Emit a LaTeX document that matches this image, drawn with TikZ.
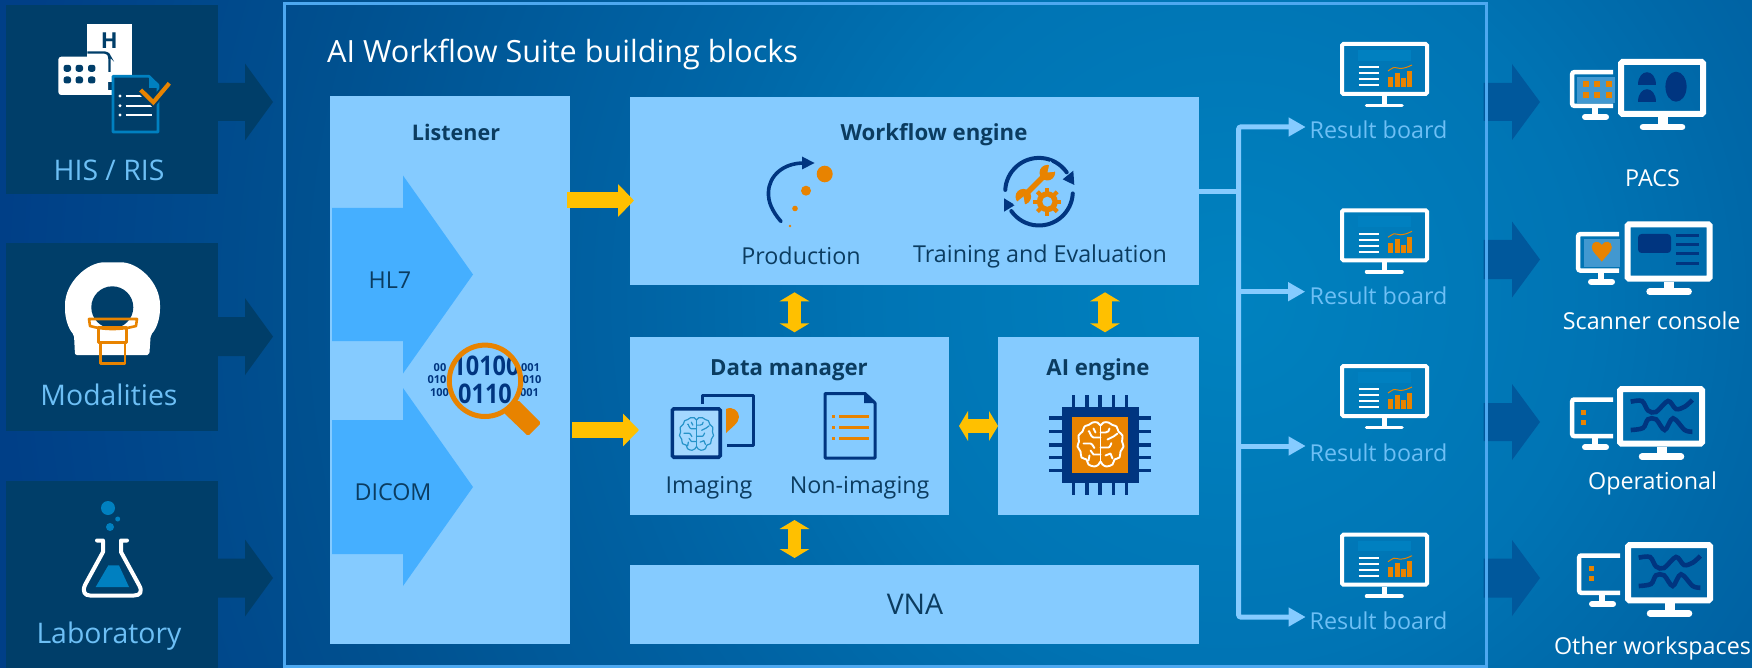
\documentclass[tikz,border=0pt]{standalone}
\usepackage{fontspec}
\setmainfont{Open Sans}
\usetikzlibrary{arrows.meta,calc}
\definecolor{panel}{HTML}{003E69}
\definecolor{lite}{HTML}{85CBFF}
\definecolor{midb}{HTML}{45AFFF}
\definecolor{rim}{HTML}{4DA8F0}
\definecolor{txtd}{HTML}{0B3C60}
\definecolor{txtl}{HTML}{6DBFF5}
\definecolor{navy}{HTML}{003580}
\definecolor{oran}{HTML}{E88300}
\definecolor{gold}{HTML}{FFC000}
\definecolor{cyanb}{HTML}{0080C0}
\definecolor{arrowr}{HTML}{00589C}
\definecolor{scr}{HTML}{4298D0}
\pgfdeclareradialshading{bgshade}{\pgfpoint{0bp}{0bp}}{%
 rgb(0bp)=(0,.51,.75); rgb(6bp)=(0,.455,.706); rgb(8.7bp)=(0,.408,.659);
 rgb(10.2bp)=(0,.384,.639); rgb(15.5bp)=(0,.314,.561); rgb(20.5bp)=(0,.247,.529); rgb(50bp)=(0,.247,.529)}
\tikzset{
 box/.style={fill=lite,draw=none,inner sep=0pt,outer sep=0pt},
 panelbox/.style={fill=panel,draw=none,inner sep=0pt,outer sep=0pt},
 txt/.style={inner sep=0pt,outer sep=0pt,text=txtd,font=\fontsize{23.3}{27}\selectfont},
 head/.style={inner sep=0pt,outer sep=0pt,text=txtd,font=\fontsize{22.2}{26}\selectfont\bfseries},
 side/.style={inner sep=0pt,outer sep=0pt,text=txtl,font=\fontsize{28.4}{32}\selectfont},
 rlab/.style={inner sep=0pt,outer sep=0pt,text=txtl,font=\fontsize{23.3}{27}\selectfont},
 wlab/.style={inner sep=0pt,outer sep=0pt,text=white,font=\fontsize{23.3}{27}\selectfont},
 bin/.style={inner sep=0pt,outer sep=0pt,text=navy,font=\fontsize{11}{13}\selectfont\bfseries},
 bigbin/.style={inner sep=0pt,outer sep=0pt,text=navy,font=\fontsize{27}{30}\selectfont\bfseries},
 yarr/.style={draw=gold,line width=16pt,-{Triangle[length=16pt,width=32pt]}},
 ydbl/.style={draw=gold,line width=13.5pt,{Triangle[length=9pt,width=29.5pt]}-{Triangle[length=9pt,width=29.5pt]}},
 lconn/.style={draw=lite,line width=5pt},
 ltip/.style={-{Triangle[length=17pt,width=18pt]}},
 ltips/.style={{Triangle[length=17pt,width=18pt]}-{Triangle[length=17pt,width=18pt]}},
}
\newcommand\boxn[6]{\node[#6,minimum width={#4pt-#2pt},minimum height={#5pt-#3pt}] (#1) at ({(#2+#4)/2},{(#3+#5)/2}) {};}
% x0, xhead, xtip, yc, shaft half, head half, colour
\newcommand\bblock[7]{\fill[#7] (#1,#4-#5) -- (#2,#4-#5) -- (#2,#4-#6) -- (#3,#4) -- (#2,#4+#6) -- (#2,#4+#5) -- (#1,#4+#5) -- cycle;}
\newcommand\brainicon[5]{\begin{scope}[shift={(#1,#2)},scale=#3,draw=#4,line width=#5pt,line cap=round,line join=round]
 \draw plot[smooth cycle,tension=.6] coordinates {(0,-19)(3,-22)(8,-22)(12,-19.5)(16,-18)(18,-13)(22,-9)(21.5,-3)(23,2)(20,7)(19,13)(14,15)(12,20)(6,22)(2,20)(0,17)(-2,20)(-6,22)(-12,20)(-14,15)(-19,13)(-20,7)(-23,2)(-21.5,-3)(-22,-9)(-18,-13)(-16,-18)(-12,-19.5)(-8,-22)(-3,-22)};
 \draw (0,-19) -- (0,17);
 \draw (0,-12) -- (5,-12) to[out=0,in=-90] (9,-16);
 \draw (7,-5) to[out=0,in=180] (13,-8) -- (17,-11);
 \draw (0,3) -- (8,3) to[out=0,in=90] (11,-1);
 \draw (5,11) -- (10,9) -- (12,14);
 \draw (0,-7) -- (-7,-7) to[out=180,in=80] (-12,-13);
 \draw (-17,-1) -- (-10,-1) to[out=0,in=-90] (-6,3);
 \draw (0,10) -- (-7,10) -- (-10,6);
 \draw (-7,-16) -- (-5,-12);
 \draw (-12,16) -- (-11,11);
\end{scope}}
\newcommand\resmon[1]{\begin{scope}[shift={(0,#1)}]
 \fill[cyanb] (1357.7,50) rectangle (1411.3,60.7);
 \draw[white,line width=4pt,rounded corners=1.5pt] (1342,44) rectangle (1427,94);
 \foreach \yy in {67.3,73.3,79.3,85.3}{\draw[white,line width=2pt] (1358.5,\yy) -- (1379,\yy);}
 \fill[oran] (1388,76.7) rectangle (1393,86.7);
 \fill[oran] (1394.7,72.7) rectangle (1399.6,86.7);
 \fill[oran] (1401,78.3) rectangle (1406,86.7);
 \fill[oran] (1407,70.7) rectangle (1412,86.7);
 \draw[oran,line width=1pt] plot[smooth] coordinates {(1388,71)(1394,67.5)(1400,68.5)(1406,67.5)(1412,65)};
 \draw[white,line width=5pt] (1384.5,96) -- (1384.5,105);
 \draw[white,line width=3.5pt,line cap=round] (1366.5,105.5) -- (1402,105.5);
\end{scope}}
% left, top, frame height
\newcommand\bigmon[3]{\begin{scope}[shift={(#1,#2)}]
 \draw[white,line width=6pt,rounded corners=1.5pt] (3,3) rectangle (85,#3-3);
 \draw[white,line width=10pt] (44.5,#3) -- (44.5,#3+8);
 \draw[white,line width=6.5pt,line cap=round] (25,#3+10) -- (64,#3+10);
\end{scope}}
% left, top, height
\newcommand\smallmon[3]{\begin{scope}[shift={(#1,#2)}]
 \draw[white,line width=4.5pt,rounded corners=2pt] (43,2.2) -- (2.2,2.2) -- (2.2,#3-2.2) -- (43,#3-2.2);
 \draw[white,line width=6pt] (25,#3) -- (25,#3+7);
 \draw[white,line width=6pt,line cap=round] (15,#3+9) -- (36,#3+9);
\end{scope}}
\newcommand\waves[2]{\begin{scope}[shift={(#1,#2)},draw=navy,line width=4.6pt]
 \draw plot[smooth,tension=.55] coordinates {(13.7,15.7)(25,15)(31,24.5)(39,26)(51,15)(59,23)(67.7,20.7)(75.3,14)};
 \draw plot[smooth,tension=.55] coordinates {(13.7,44)(26,42)(31,33.3)(39,33.3)(47.7,44)(56,32.3)(67.7,44)(75.3,45.7)};
\end{scope}}
\begin{document}
\begin{tikzpicture}[x=1pt,y=-1pt]
\useasboundingbox (0,0) rectangle (1752,668);
\begin{scope}
 \clip (0,0) rectangle (1752,668);
 \shade[shading=bgshade] (-270,-1200) rectangle (2730,1800);
\end{scope}
% left panels
\boxn{his}{6}{5.5}{218}{194}{panelbox}
\boxn{mod}{6}{243}{218}{431}{panelbox}
\boxn{lab}{6}{481}{218}{668}{panelbox}
\bblock{218}{245}{273}{102}{19}{38.5}{panel}
\bblock{218}{245}{273}{336.6}{19.5}{38.5}{panel}
\bblock{218}{245}{273}{578}{19.5}{38.5}{panel}
\node[side] (histxt) at (109,170) {HIS / RIS};
\node[side] (modtxt) at (109,395) {Modalities};
\node[side] (labtxt) at (109,636.5) {Laboratory};
% HIS icon
\fill[white] (87.3,24) rectangle (131.7,82);
\fill[white,rounded corners=3pt] (58.3,95) -- (58.3,56.7) -- (108,56.7) -- (108,95) -- cycle;
\fill[white] (100,90) rectangle (115,95);
\draw[panel,line width=2.4pt,rounded corners=3pt] (87.3,52.5) -- (107.5,52.5) -- (109.5,56) -- (109.5,72);
\node[inner sep=0pt,text=panel,font=\fontsize{22}{24}\selectfont\bfseries] (hish) at (109.3,41) {H};
\foreach \xx in {67.3,79.3,91.7}{\foreach \yy in {68.3,80}{\fill[panel,rounded corners=2.5pt] (\xx-3.7,\yy-3.5) rectangle (\xx+3.7,\yy+3.5);}}
\draw[cyanb,line width=2.6pt,fill=panel,line join=round] (113,76.3) -- (149,76.3) -- (158,85) -- (158,132) -- (113,132) -- cycle;
\fill[cyanb] (149,76.3) -- (158,85) -- (158,88) -- (149,88) -- cycle;
\foreach \yy in {96,105.7,115}{\fill[white] (120,\yy) circle[radius=1.6]; \draw[white,line width=2pt] (125.7,\yy) -- (151.7,\yy);}
\draw[panel,line width=8pt] (140.7,90) -- (153.3,102.3) -- (169.3,83.3);
\draw[oran,line width=4.2pt] (140.7,90) -- (153.3,102.3) -- (169.3,83.3);
% CT icon
\fill[white,rounded corners=2pt] (75,355) -- (74,335) .. controls (68,328) and (65,318) .. (65,307) .. controls (65,282) and (88,262.3) .. (106,262.3) -- (119,262.3) .. controls (138,262.3) and (160,282) .. (160,307) .. controls (160,318) and (157,328) .. (150.7,335) -- (149.3,355) -- cycle;
\fill[panel] (112.3,307.3) circle[radius=21];
\draw[oran,line width=2.6pt,line join=round] (89,319) -- (137,319) -- (136,326) .. controls (122,330) and (103,330) .. (90,326) -- cycle;
\draw[oran,line width=2.6pt,line join=round] (98.3,327.5) rectangle (126.7,342.7);
\draw[oran,line width=2.6pt,line join=round] (100.7,342.7) rectangle (125,363.3);
% flask icon
\fill[cyanb] (108,508) circle[radius=7];
\fill[cyanb] (117.7,519) circle[radius=2.5];
\fill[cyanb] (110,527) circle[radius=4];
\draw[white,line width=4pt,line cap=round,line join=round] (97,540.5) -- (103,540.5) -- (103,552) -- (85,585) .. controls (82,592) and (85,595.5) .. (90,595.5) -- (134,595.5) .. controls (140,595.5) and (143,592) .. (139,585) -- (121,552) -- (121,540.5) -- (127,540.5);
\fill[cyanb] (108.3,565.4) -- (119,565.4) -- (129,587) -- (95.7,587) -- cycle;
% right arrows (under the frame)
\bblock{1483.5}{1512}{1540}{102}{19}{38}{arrowr}
\bblock{1483.5}{1512}{1540}{259.5}{19.5}{38}{arrowr}
\bblock{1483.5}{1512}{1540}{422}{19}{38}{arrowr}
\bblock{1483.5}{1512}{1540}{578}{19.5}{38}{arrowr}
% suite frame
\draw[rim,line width=3pt] (284.5,4) rectangle (1486,666.5);
\node[anchor=west,inner sep=0pt,text=white,font=\fontsize{30.6}{34}\selectfont] (title) at (327,54) {AI Workflow Suite building blocks};
% listener
\boxn{listener}{330}{96.5}{570}{644}{box}
\node[head,font=\fontsize{21.5}{25}\selectfont\bfseries] (listxt) at (456,132) {Listener};
\bblock{332}{403}{473}{274.5}{66.5}{99}{midb}
\bblock{332}{403}{473}{487}{67}{99}{midb}
\node[txt] (hl7) at (390,280) {HL7};
\node[txt] (dicom) at (393,492) {DICOM};
% magnifier
\node[bin] (b1) at (440,368) {00};
\node[bin] (b2) at (437,380) {010};
\node[bin] (b3) at (439.5,392.5) {100};
\node[bin] (b4) at (530.5,368) {001};
\node[bin] (b5) at (532,380) {010};
\node[bin] (b6) at (529.5,392.5) {001};
\begin{scope}
 \clip (485,380.8) circle[radius=35];
 \node[bigbin] (b7) at (486,366) {\scalebox{.87}[1]{10100}};
 \node[bigbin] (b8) at (485,394) {\scalebox{.87}[1]{0110}};
\end{scope}
\fill[oran,rounded corners=1.5pt] (504,413) -- (518,400) -- (541,423) -- (528,436) -- cycle;
\draw[oran,line width=5pt] (485,380.8) circle[radius=35.7];
% workflow
\boxn{wf}{630}{97}{1199}{285}{box}
\node[head] (wftxt) at (934,135) {Workflow engine};
\node[txt] (prod) at (801,256) {Production};
\node[txt] (train) at (1040,256) {Training and Evaluation};
\draw[navy,line width=3.6pt,line cap=round] (781,221.5) .. controls (772,211) and (768,202) .. (768.5,192) .. controls (769,176) and (783,163) .. (804,163);
\fill[navy] (802,156.5) -- (814.5,163) -- (802,169.5) -- cycle;
\fill[oran] (824.7,174) ellipse[x radius=8,y radius=8.3];
\fill[oran] (806,190.7) circle[radius=5];
\fill[oran] (795,208.5) circle[radius=2.8];
\fill[oran] (790,226) circle[radius=1.3];
% training icon
\draw[navy,line width=4pt,line cap=round] (1039,191.7) ++(183:33.8) arc[start angle=183,end angle=325,radius=33.8];
\draw[navy,line width=4pt,line cap=round] (1039,191.7) ++(3:33.8) arc[start angle=3,end angle=145,radius=33.8];
\fill[navy] (1073.3,170.7) -- (1074.3,185) -- (1062.7,179.3) -- cycle;
\fill[navy] (1004,198.3) -- (1004,211.7) -- (1015,205) -- cycle;
\draw[oran,line width=5.5pt] (1045,175) -- (1026,194);
\fill[oran] (1047.3,172.7) circle[radius=7.8];
\fill[oran] (1023.3,196.7) circle[radius=7.8];
\fill[lite] (1047.5,172.5) -- (1050,161) -- (1060,171) -- cycle;
\fill[lite] (1023.5,196.5) -- (1025.5,208) -- (1013,205) -- cycle;
\foreach \aa in {0,45,...,315}{\draw[oran,line width=4.2pt] (1047.3,201.7) -- ++(\aa:14);}
\fill[oran] (1047.3,201.7) circle[radius=10.5];
\fill[lite] (1047.3,201.7) circle[radius=5];
% data manager
\boxn{dm}{630}{337}{949}{515}{box}
\node[head] (dmtxt) at (789,370) {Data manager};
\node[txt] (imgtxt) at (709,488) {Imaging};
\node[txt] (nontxt) at (859.6,488) {Non-imaging};
\draw[navy,line width=3pt,line join=round] (702.3,404) -- (702.3,395) -- (753,395) -- (753,445) -- (727,445);
\fill[oran] (726,409) .. controls (733,406) and (739,411) .. (739,417) .. controls (739,423) and (731,428) .. (726,433) -- cycle;
\draw[navy,line width=3.6pt,fill=lite!75!white,rounded corners=1.5pt] (672.3,408.8) rectangle (720.2,457.2);
\brainicon{696.5}{434}{.74}{cyanb!85!white}{1.2}
\draw[navy,line width=3pt,line join=round] (825,393.5) -- (865,393.5) -- (875,403) -- (875,458) -- (825,458) -- cycle;
\fill[navy] (864,393.5) -- (875,403) -- (864,403) -- cycle;
\foreach \yy in {416.7,427.7,438.3}{\fill[oran] (832,\yy-1.7) rectangle (835.2,\yy+1.7); \draw[oran,line width=3pt] (839,\yy) -- (869,\yy);}
% AI engine
\boxn{ai}{998}{337}{1199}{515}{box}
\node[head] (aitxt) at (1098,370) {AI engine};
\foreach \xx in {1073.5,1087,1100,1113.3,1126.3}{\draw[navy,line width=3.2pt] (\xx,395) -- (\xx,495.3);}
\foreach \yy in {418,431.7,445,457.7,470.7}{\draw[navy,line width=3.2pt] (1049.4,\yy) -- (1150.5,\yy);}
\fill[navy] (1062,406.7) rectangle (1138.6,482.7);
\fill[oran] (1072,417) rectangle (1128,472.7);
\brainicon{1100.5}{444.5}{1}{white}{1.9}
% VNA
\boxn{vna}{630}{565}{1199}{643.5}{box}
\node[txt,font=\fontsize{28.5}{32}\selectfont] (vnatxt) at (915,604) {VNA};
% yellow connectors
\draw[yarr] ([shift={(-3,-169.75)}]listener.east) -- ([shift={(4,9.5)}]wf.west);
\draw[yarr] ([shift={(2,59.75)}]listener.east) -- ([shift={(9,4)}]dm.west);
\draw[ydbl] ([shift={(-120,7.3)}]wf.south) -- ([shift={(5,-4.7)}]dm.north);
\draw[ydbl] ([shift={(190.5,7.3)}]wf.south) -- ([shift={(6.5,-4.7)}]ai.north);
\draw[ydbl] ([shift={(5,5)}]dm.south) -- ([shift={(-120,-7)}]vna.north);
\draw[ydbl] ([shift={(10,0)}]dm.east) -- ([shift={(0,0)}]ai.west);
% result boards
\resmon{0}
\resmon{166.3}
\resmon{322}
\resmon{490.7}
\node[rlab] (r1) at (1378.5,130) {Result board};
\node[rlab] (r2) at (1378.5,296) {Result board};
\node[rlab] (r3) at (1378.5,452.7) {Result board};
\node[rlab] (r4) at (1378.5,620.7) {Result board};
\coordinate (tk1) at (1238.7,127);
\coordinate (tk2) at (1238.7,291.7);
\coordinate (tk3) at (1238.7,446);
\coordinate (tk4) at (1238.7,617);
\coordinate (tj) at (1238.7,191.7);
\draw[lconn,ltips,rounded corners=2pt,shorten <=4pt,shorten >=4pt] (tk1 -| r1.west) -- (tk1) -- (tk4) -- (tk4 -| r4.west);
\draw[lconn,ltip,shorten >=4.5pt] (tk2) -- (tk2 -| r2.west);
\draw[lconn,ltip,shorten >=4pt] (tk3) -- (tk3 -| r3.west);
\draw[lconn] (tj -| wf.east) -- (tj);
% PACS
\fill[scr] (1577,76.7) rectangle (1615,103);
\smallmon{1570}{70}{38}
\bigmon{1618}{59}{58}
\foreach \xx in {1586,1597,1609}{\foreach \yy in {84,95}{\fill[oran] (\xx-3.2,\yy-3.2) rectangle (\xx+3.2,\yy+3.2);}}
\fill[navy] (1638,85) .. controls (1638,68) and (1656,68) .. (1656,85) -- cycle;
\fill[navy] (1638,101.7) .. controls (1638,85) and (1656,85) .. (1656,101.7) -- cycle;
\fill[navy] (1676,86.7) ellipse[x radius=10.6,y radius=15];
\node[wlab] (pacs) at (1652.5,178.5) {PACS};
% Scanner
\fill[scr] (1584,239) rectangle (1620,266.5);
\smallmon{1576}{232}{40.7}
\bigmon{1624.6}{221.3}{60.4}
\fill[oran] (1601.8,261.7) .. controls (1597,255) and (1591.8,252) .. (1591.8,247) .. controls (1591.8,241) and (1599,240) .. (1601.8,245) .. controls (1604.6,240) and (1611.8,241) .. (1611.8,247) .. controls (1611.8,252) and (1606.6,255) .. (1601.8,261.7) -- cycle;
\fill[navy,rounded corners=3.5pt] (1638,234) rectangle (1671,253);
\foreach \yy in {236,245,254,263}{\draw[navy,line width=3pt] (1676.4,\yy) -- (1699,\yy);}
\node[wlab] (scan) at (1651.7,321) {Scanner console};
% Operational
\smallmon{1570}{397.3}{41}
\bigmon{1617}{386}{60.7}
\waves{1617}{386}
\fill[oran] (1581,409.5) rectangle (1586,414.5);
\fill[oran] (1581,419.5) rectangle (1586,424.5);
\node[wlab] (oper) at (1652.5,483.5) {Operational};
% Other
\smallmon{1577}{553.3}{41.7}
\bigmon{1625}{542}{61.3}
\waves{1625}{542}
\fill[oran] (1589,565.5) rectangle (1594,570.5);
\fill[oran] (1589,575.8) rectangle (1594,580.8);
\node[wlab] (other) at (1652.5,648.5) {Other workspaces};
\end{tikzpicture}
\end{document}
